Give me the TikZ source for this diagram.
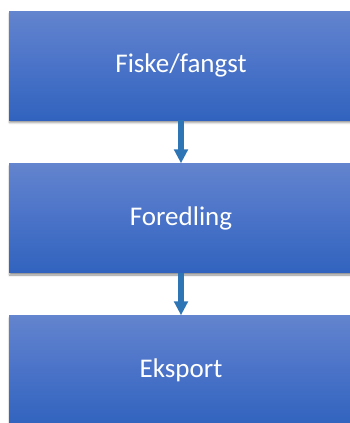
\documentclass[tikz,border=0pt]{standalone}
\usepackage{fontspec}
\setmainfont{Carlito}
\usetikzlibrary{arrows.meta,shadows.blur}
\definecolor{boxtop}{HTML}{6384CE}
\definecolor{boxmid}{HTML}{4A73C8}
\definecolor{boxbot}{HTML}{3163BE}
\definecolor{arrowblue}{HTML}{2E75B6}
\tikzset{
  stagebox/.style={rectangle, minimum width=344pt, minimum height=109pt,
    inner sep=0pt, top color=boxtop, bottom color=boxbot, middle color=boxmid,
    text=white, font=\fontsize{27}{32}\selectfont,
    blur shadow={shadow xshift=0.5pt, shadow yshift=-2.5pt, shadow blur radius=2pt, shadow opacity=45}},
  flowarrow/.style={draw=arrowblue, line width=5.5pt,
    -{Triangle[width=13.5pt,length=14pt]}, shorten >=0pt}
}
\begin{document}
\begin{tikzpicture}[x=1pt,y=-1pt]
  \useasboundingbox (0,0) rectangle (350,423);
  \clip (0,0) rectangle (350,423);
  \node[stagebox] (fiske) at (181,65.5) {Fiske/fangst};
  \node[stagebox] (foredling) at (181,218) {Foredling};
  \node[stagebox] (eksport) at (181,370) {Eksport};
  \draw[flowarrow] (fiske.south) -- (foredling.north);
  \draw[flowarrow] (foredling.south) -- (eksport.north);
\end{tikzpicture}
\end{document}
